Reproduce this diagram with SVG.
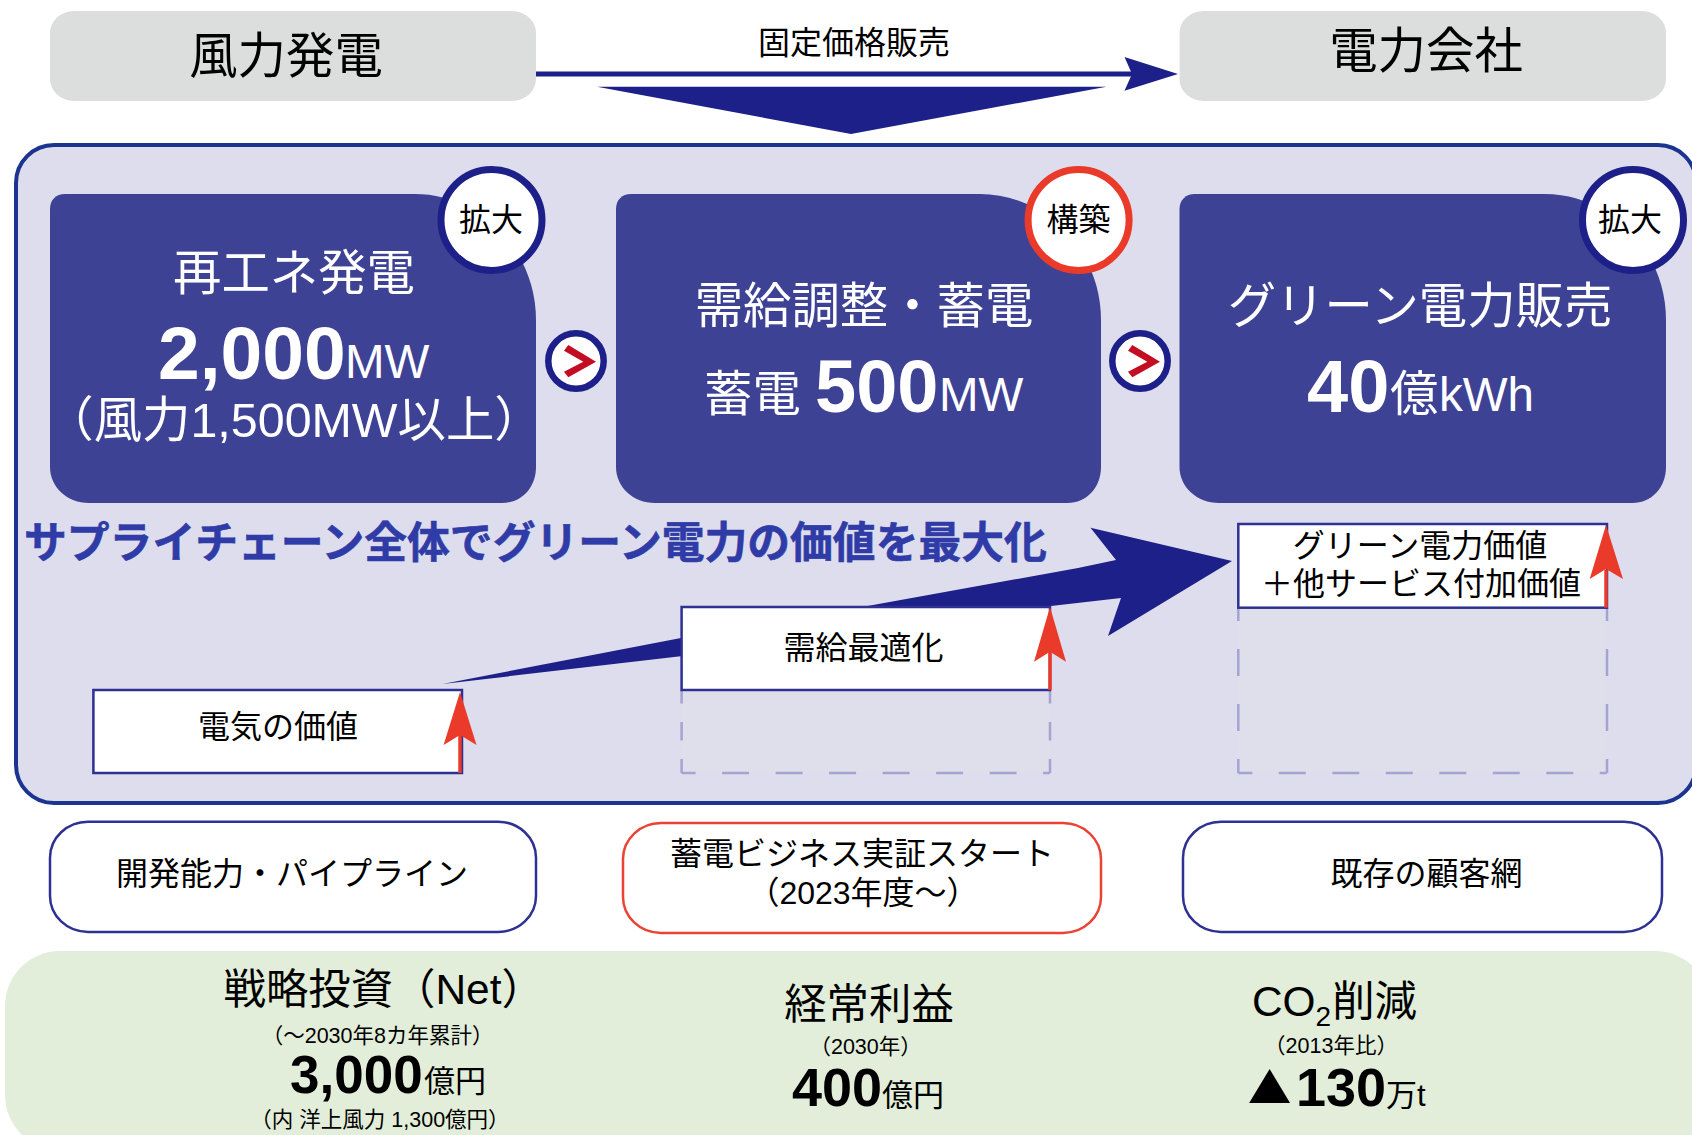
<svg xmlns="http://www.w3.org/2000/svg" width="1692" height="1135" viewBox="0 0 1692 1135">
<style>
text{font-family:"Liberation Sans","Noto Sans CJK JP",sans-serif;fill:#000}
.m{text-anchor:middle}
.w{fill:#fff}
.f48{font-size:48.400px}.f47{font-size:47.500px}.f42{font-size:42.400px}.f32{font-size:32px}.f31{font-size:31px}.f21{font-size:21.500px}
.b{font-weight:700}
.head{fill:#dcdddd}
.card{fill:#3e4295}
.badge{fill:#fff;stroke:#1d2088;stroke-width:7}
.red{stroke:#ea3a2a}
.go{fill:#fff;stroke:#1d2088;stroke-width:6.500}
.chev{fill:#c30d23}
.val{fill:#fff;stroke:#2e3192;stroke-width:2.500}
.dh{fill:none;stroke:#a5a3d3;stroke-width:2.500;stroke-dasharray:27 26.500;stroke-dashoffset:13}
.dv{fill:none;stroke:#a5a3d3;stroke-width:2.500;stroke-dasharray:27 28;stroke-dashoffset:13}
.dv2{fill:none;stroke:#a5a3d3;stroke-width:2.500;stroke-dasharray:18.500 18.500;stroke-dashoffset:4.500}
.ghost{fill:#dfdfeb}
.pill{fill:#fff;stroke:#2e3192;stroke-width:2.500}
.ra{fill:#ea3a2a}
.rl{stroke:#ea3a2a;stroke-width:3.500;fill:none}
</style>
<g id="panels">
<rect id="chain-panel" x="16" y="145" width="1680" height="658" rx="38" ry="38" fill="#dedded" stroke="#1a3490" stroke-width="4"/>
<rect id="kpi-panel" x="5" y="951" width="1705" height="199" rx="55" ry="55" fill="#e2eed9"/>
</g>
<g id="connectors">
<path d="M536 74H1135" fill="none" stroke="#1d2088" stroke-width="5"/>
<path d="M1124.500 57L1178 74L1124.500 90.700L1132 74Z" fill="#1d2088"/>
<path d="M597 86.700H1106.600L851 134Z" fill="#1d2088"/>
<path d="M442.500 684L681 638L862 607L1078 568L1116 560L1090.500 527.700L1232 561L1108 636L1121 598L1051 606L682.700 656Z" fill="#1d2088"/>
</g>
<g id="wind"><rect class="head" x="50" y="11" width="486" height="90" rx="24" ry="22"/><text class="m f48" x="286" y="73">風力発電</text></g>
<g id="utility"><rect class="head" x="1179.500" y="11" width="486.500" height="90" rx="24" ry="22"/><text class="m f48" x="1426" y="68">電力会社</text></g>
<text id="fixed-price" class="m f32" x="854" y="54">固定価格販売</text>

<g id="generation">
<path class="card" d="M65 194H415C480 194 536 250 536 320V467C536 487 522 503 502 503H89C67 503 50 487 50 467V209C50 200 56 194 65 194Z"/>
<text class="m f48 w" x="294" y="290">再工ネ発電</text>
<text class="b w" x="158" y="379" font-size="75">2,000</text>
<text class="f47 w" x="345" y="378">MW</text>
<text class="m f48 w" x="294" y="437">（風力1,500MW以上）</text>
<circle class="badge" cx="491.500" cy="220" r="50.500"/>
<text class="m f32" x="491" y="231">拡大</text>
</g>
<g id="storage">
<path class="card" d="M631 194H980C1045 194 1101 250 1101 320V467C1101 487 1087 503 1067 503H655C633 503 616 487 616 467V209C616 200 622 194 631 194Z"/>
<text class="m f48 w" x="864" y="323">需給調整・蓄電</text>
<text class="f48 w" x="704" y="411">蓄電</text>
<text class="b w" x="815" y="412" font-size="74">500</text>
<text class="f47 w" x="939" y="411">MW</text>
<circle class="badge red" cx="1078.600" cy="220" r="50.500"/>
<text class="m f32" x="1078.600" y="231">構築</text>
</g>
<g id="retail">
<path class="card" d="M1194.500 194H1545C1610 194 1666 250 1666 320V467C1666 487 1652 503 1632 503H1219C1197 503 1179.500 487 1179.500 467V209C1179.500 200 1186 194 1194.500 194Z"/>
<text class="m f48 w" x="1420" y="323">グリーン電力販売</text>
<text class="b w" x="1307" y="412" font-size="74">40</text>
<text class="f48 w" x="1390" y="411">億</text>
<text class="f47 w" x="1439" y="411">kWh</text>
<circle class="badge" cx="1633" cy="220" r="50.500"/>
<text class="m f32" x="1630" y="231">拡大</text>
</g>
<g id="step-1"><circle class="go" cx="576" cy="361" r="27.700"/><path class="chev" d="M564 350.700L568.300 345L596 361.700L568.300 377.300L564 371.700L583.300 361.700Z"/></g>
<g id="step-2"><circle class="go" cx="1140" cy="361" r="27.700"/><path class="chev" d="M1128 350.700L1132.300 345L1160 361.700L1132.300 377.300L1128 371.700L1147.300 361.700Z"/></g>

<text id="tagline" x="24" y="558" font-size="42.800" font-weight="700" stroke="#2f3ba6" stroke-width="0.600" style="fill:#2f3ba6">サプライチェーン全体でグリーン電力の価値を最大化</text>

<g id="value-electricity">
<rect class="val" x="93.400" y="690" width="368.600" height="83"/>
<text class="m f32" x="278" y="738">電気の価値</text>
<path class="rl" d="M460 773V735"/><path class="ra" d="M460 692L476.500 745L460 735L443.600 745Z"/>
</g>
<g id="value-balancing">
<rect class="ghost" x="681.600" y="690" width="368.400" height="83"/>
<path class="dv2" d="M681.600 773V690M1050 773V690"/>
<path class="dh" d="M681.600 773H1050"/>
<rect class="val" x="681.600" y="607" width="368.400" height="83"/>
<text class="m f32" x="863.500" y="659">需給最適化</text>
<path class="rl" d="M1050 690V652"/><path class="ra" d="M1050 607L1066 661.700L1050 651.700L1034 661.700Z"/>
</g>
<g id="value-green">
<rect class="ghost" x="1238.300" y="608" width="368.700" height="165"/>
<path class="dv" d="M1238.300 773V608M1607 773V608"/>
<path class="dh" d="M1238.300 773H1607"/>
<rect class="val" x="1238.300" y="524" width="368.700" height="83.700"/>
<text class="m f32" x="1420" y="557">グリーン電力価値</text>
<text class="m f32" x="1421" y="595">＋他サービス付加価値</text>
<path class="rl" d="M1606 607.700V570"/><path class="ra" d="M1606 525L1623 579L1606 569L1589.700 579Z"/>
</g>

<g id="capability-pipeline"><rect class="pill" x="50" y="821.700" width="486" height="110.300" rx="38" ry="36"/><text class="m f32" x="292" y="885">開発能力・パイプライン</text></g>
<g id="capability-storage"><rect class="pill" style="stroke:#ea4335;stroke-width:2.500" x="623" y="823" width="478" height="110" rx="38" ry="36"/><text class="m f32" x="862" y="865">蓄電ビジネス実証スタート</text><text class="m f32" x="863" y="904">（2023年度～）</text></g>
<g id="capability-customers"><rect class="pill" x="1183" y="821.700" width="479" height="110.300" rx="38" ry="36"/><text class="m f32" x="1426.500" y="885">既存の顧客網</text></g>

<g id="kpi-investment">
<text class="f42" x="223.500" y="1004">戦略投資（Net）</text>
<text class="m f21" x="377.600" y="1043">（～2030年8カ年累計）</text>
<text class="b" x="290" y="1093" font-size="53">3,000</text>
<text class="f31" x="424" y="1092">億円</text>
<text class="m f21" x="380" y="1127">（内 洋上風力 1,300億円）</text>
</g>
<g id="kpi-profit">
<text class="m f42" x="869" y="1019">経常利益</text>
<text class="m f21" x="865.600" y="1054">（2030年）</text>
<text class="b" x="792" y="1106" font-size="54">400</text>
<text class="f31" x="882" y="1106">億円</text>
</g>
<g id="kpi-co2">
<text class="f42" x="1252" y="1016">CO<tspan font-size="28" dy="10">2</tspan><tspan dy="-10" dx="1">削減</tspan></text>
<text class="m f21" x="1331" y="1053">（2013年比）</text>
<text class="b" transform="translate(1235 1103) scale(1 .83)" font-size="70" letter-spacing="-14">▲</text>
<text class="b" x="1296" y="1106" font-size="54">130</text>
<text class="f31" x="1386" y="1106">万t</text>
</g>
</svg>
